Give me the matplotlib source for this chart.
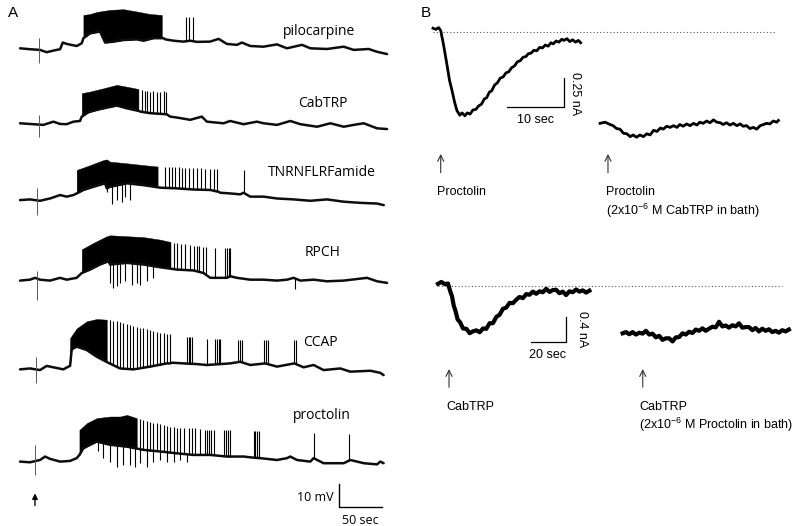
import numpy as np
import matplotlib
matplotlib.use("Agg")
import matplotlib.pyplot as plt

plt.rcParams["mathtext.fontset"] = "custom"
plt.rcParams["mathtext.rm"] = "Liberation Sans"
plt.rcParams["mathtext.it"] = "Liberation Sans:italic"

# ---------------------------------------------------------------
# Panel A: intracellular recordings (time in s, mV relative to trace start)
# base = slow membrane potential, HI = top of the dense burst,
# SPK = single spikes (peak), DIP = downward deflections (trough)
# ---------------------------------------------------------------
PILO_T = [0, 11.6, 23.3, 31, 38.8, 46.6, 49.7, 54.3, 66, 71.8, 73.7, 81.5, 93.1, 99, 108.6, 120.3,
          135.8, 143.6, 155.2, 166.8, 168.8, 178.5, 190, 198, 205.6, 221, 230.9, 240.6, 252.2, 258,
          267.7, 283, 298.8, 310.4, 327.9, 337.6, 357, 376.4, 388, 405.5, 415, 426.8]
PILO_V = [0, -0.4, -0.7, -1.7, -1.0, -0.4, 2.5, 1.9, 1.0, 2.2, 4.4, 6.5, 7.3, 2.5, 2.9, 3.6,
          3.9, 3.3, 4.4, 4.4, 3.9, 3.3, 2.9, 3.3, 2.8, 2.9, 4.1, 1.9, 1.5, 2.5,
          1.0, 0.7, 1.7, 0, 1.5, 0, -0.3, 0.7, -0.7, -0.3, -1.5, -2.5]
PILO_HI_T = [73.7, 81.5, 89.2, 104.8, 120.3, 135.8, 151.3, 164.9]
PILO_HI_V = [14.5, 14.9, 15.8, 16.7, 17.0, 16.0, 14.9, 14.5]
PILO_SPK_T = [193.2, 196.7, 200.6]
PILO_SPK_V = [13.5, 13.5, 13.5]

CAB_T = [0, 15.5, 27.2, 38.8, 46.6, 54.3, 62.1, 69.8, 71.8, 79.5, 89.2, 100.9, 112.5, 124.2, 137.7,
         139.7, 151.3, 170.7, 174.6, 182.4, 197.9, 211.4, 217.3, 236.7, 244.4, 260, 275.5, 283.2,
         298.8, 314.3, 326, 345.4, 360.9, 376.4, 388, 399.7, 415.2, 426.8]
CAB_V = [0, -0.4, -0.7, 0.7, -0.3, -0.4, 0.7, 1.0, 2.9, 4.8, 5.8, 6.8, 7.7, 6.5, 5.4,
         5.1, 4.4, 3.9, 2.9, 2.5, 1.5, 2.9, 0.7, 0, 1.0, -0.4, 0.7, 0,
         -0.7, 1.0, -0.4, -1.5, 0, -1.5, -0.7, 0, -2.2, -2.5]
CAB_HI_T = [71.8, 81.5, 97, 112.5, 124.2, 137.7]
CAB_HI_V = [13.1, 13.8, 15.2, 16.7, 15.9, 14.9]
CAB_SPK_T = [141.6, 145.1, 148.2, 151.3, 155.2, 159.1, 163, 167.7, 170]
CAB_SPK_V = [14.5, 14.2, 14.2, 13.8, 14.2, 13.8, 13.8, 14.2, 13.8]

TNRN_T = [0, 11.6, 23.3, 34.9, 46.6, 54.3, 62.1, 65.9, 73.7, 85.4, 98.9, 100.9, 104.8, 124.2, 143.6,
          163, 182.4, 201.8, 221.2, 230.9, 232.8, 244.4, 256.1, 259.9, 267.7, 283.2, 298.8, 318.2,
          337.6, 357, 376.4, 395.8, 415.2, 423]
TNRN_V = [0, 0.3, -0.3, 0.7, 2.2, 1.5, 2.2, 2.9, 4.4, 5.8, 7.3, 5.1, 5.8, 7.3, 6.5,
          5.4, 5.1, 4.6, 4.4, 3.6, 3.2, 2.9, 2.5, 3.2, 1.5, 1.5, 0.7, 0.3,
          -0.3, 0.3, -0.7, -1.2, -1.5, -2.2]
TNRN_HI_T = [65.9, 81.5, 97, 100.9, 104.8, 124.2, 143.6, 160]
TNRN_HI_V = [13.1, 15.2, 17.4, 17.7, 16.7, 16.0, 15.2, 14.6]
TNRN_SPK_T = [168.8, 172.7, 176.6, 180.5, 184.3, 188.2, 192.1, 196, 201, 205.6, 210.3, 215.3,
              221.2, 225.8, 228.9, 259.9]
TNRN_SPK_V = [14.5, 14.4, 14.4, 14.2, 14.2, 14.0, 14.0, 13.8, 13.8, 13.8, 13.8, 13.6,
              13.6, 13.6, 13.6, 13.0]
TNRN_DIP_T = [100.9, 106.7, 112.5, 118.3, 122.2, 128]
TNRN_DIP_V = [3.5, -1.5, 0, -0.7, 1.5, 0]

RPCH_T = [0, 11.6, 17.5, 23.3, 34.9, 46.6, 54.3, 65.9, 71.8, 81.5, 93.1, 102.8, 104.8, 124.2, 143.6,
          163, 182.4, 201.8, 213.4, 221.2, 240.6, 244.4, 252.2, 267.7, 283.2, 298.8, 310.4, 318.2,
          325.9, 341.4, 357, 376.4, 403.5, 415.2, 426.8]
RPCH_V = [0, 0.4, 1.2, 0.4, 0, 1.2, 0.4, 1.2, 3.3, 4.8, 7.0, 8.4, 7.0, 7.7, 7.0,
          5.8, 4.8, 4.4, 3.3, 1.2, 1.2, 1.9, 1.2, 0.4, 0.4, 0, 0.4, 1.2,
          0, 0.4, -0.3, 0, 1.2, -0.3, -1.0]
RPCH_HI_T = [71.8, 85.4, 100.9, 104.8, 124.2, 143.6, 163, 175]
RPCH_HI_V = [13.6, 16.4, 19.3, 19.7, 19.3, 18.9, 17.8, 16.8]
RPCH_SPK_T = [178.5, 182.4, 187, 192.1, 197.9, 202.9, 205.6, 208.7, 212.6, 216.5, 227,
              238.6, 240.6, 242.5, 244.4]
RPCH_SPK_V = [16.5, 16.2, 16.0, 15.8, 15.4, 15.2, 15.0, 15.0, 14.8, 14.6, 14.2,
              14.0, 14.0, 14.0, 14.0]
RPCH_DIP_T = [104.8, 108.6, 112.5, 116.4, 122.2, 130, 135.8, 139.7, 147.4, 155.2, 320]
RPCH_DIP_V = [-1.0, -3.2, -2.5, -1.0, -0.3, -1.7, -1.0, -1.7, -0.3, 1.2, -3.5]

CCAP_T = [0, 11.6, 23.3, 31, 38.8, 50.4, 56.3, 58.2, 60.1, 65.9, 77.6, 89.2, 100.9, 116.4, 131.9,
          151.3, 170.7, 174.6, 176.6, 190.2, 205.6, 217.3, 244.4, 256.1, 267.7, 285.2, 298.8, 319,
          329.7, 341.4, 353, 372.5, 384.1, 407.4, 418.9, 422.8]
CCAP_V = [0, 0.4, -0.3, 1.5, 0.9, 0, 1.2, 1.5, 8.7, 9.9, 8.4, 5.5, 3.2, 0.4, 0,
          1.2, 2.6, 2.6, 2.9, 2.6, 2.3, 1.9, 2.6, 3.3, 1.9, 2.6, 1.2, 2.6,
          0.9, 1.9, -0.3, 0.4, -1.0, -0.6, -1.5, -2.5]
CCAP_HI_T = [58.2, 65.9, 77.6, 89.2, 100.9]
CCAP_HI_V = [13.6, 17.8, 20.9, 21.9, 21.6]
CCAP_SPK_T = [104.8, 108.6, 112.5, 116.4, 120.3, 124.2, 128, 131.9, 135.8, 139.7, 143.6, 147.4,
              151.3, 155.2, 159.1, 163, 166.9, 170.7, 174.6, 194, 196, 198, 200, 217.3,
              227, 229, 231, 233, 254, 256, 258, 284, 286, 288, 319, 320.5]
CCAP_SPK_V = [21.4, 21.2, 21.0, 20.6, 20.2, 19.8, 19.4, 19.0, 18.6, 18.2, 17.8, 17.4,
              17.0, 16.6, 16.2, 15.8, 15.6, 15.4, 15.4, 14.2, 14.2, 14.2, 14.2, 13.1,
              13.1, 13.1, 13.1, 13.1, 12.8, 12.8, 12.8, 12.8, 12.8, 12.8, 12.8, 12.8]

PROC_T = [0, 11.6, 23.3, 29.1, 34.9, 46.6, 58.2, 65.9, 69.1, 73.7, 81.5, 89.2, 104.8, 124.2, 143.6,
          163, 182.4, 201.8, 221.2, 240.6, 260, 271.6, 279.4, 298.8, 310.4, 314.3, 322.1, 337.6,
          341.4, 353, 376.4, 384.1, 399.7, 415.2, 418.9, 422.8]
PROC_V = [0, -0.3, 0.7, 2.2, 1.2, 0, 0.3, 1.5, 2.9, 5.8, 7.3, 8.7, 7.3, 6.5, 5.1,
          4.4, 3.6, 2.9, 2.9, 2.2, 2.2, 1.7, 1.5, 0.7, 1.5, 2.2, 0.7, 0,
          1.5, -0.7, -0.7, 0.7, -0.7, -1.2, 0, -0.7]
PROC_HI_T = [69.1, 77.6, 89.2, 104.8, 116.4, 124.2, 135.8]
PROC_HI_V = [13.8, 16.7, 18.9, 19.6, 19.6, 20.3, 18.9]
PROC_SPK_T = [139.7, 143.6, 147.4, 151.3, 155.2, 159.1, 163, 166.9, 170.7, 174.6, 178.5, 182.4,
              186.3, 190.2, 196, 199.8, 203.7, 209.5, 215.3, 217.5, 220, 222.5, 225, 236.7,
              239, 241.5, 244.4, 271.6, 273.5, 275.5, 277.4, 341.4, 382.1]
PROC_SPK_V = [18.6, 18.2, 17.8, 17.4, 17.0, 16.6, 16.2, 15.8, 15.5, 15.2, 15.0, 14.8,
              14.6, 14.5, 14.5, 14.5, 14.5, 14.0, 13.8, 13.8, 13.8, 13.8, 13.8, 13.8,
              13.8, 13.8, 13.8, 13.1, 13.1, 13.1, 13.1, 12.3, 11.9]
PROC_DIP_T = [91.2, 97, 104.8, 112.5, 120.3, 128, 133.8, 139.7, 147.4, 155.2, 163, 170.7,
              178.5, 186.3, 194]
PROC_DIP_V = [4.4, 1.5, 0, -2.2, -1.5, -1.5, -2.2, -0.7, -2.2, 0, 0.7, 0, 0, 0.7, 0]

A_LABELS = ["pilocarpine", "CabTRP", "TNRNFLRFamide", "RPCH", "CCAP", "proctolin"]
# stimulus artefact at application time (s) and its extent (mV)
ART_T = [22.5, 22.5, 19.4, 19.4, 18.6, 17.5]
ART_TOP = [4.4, 3.6, 5.1, 4.0, 5.5, 7.3]
ART_BOT = [-6.5, -5.8, -6.5, -8.3, -6.1, -5.8]

# ---------------------------------------------------------------
# Panel B: voltage-clamp currents (time in s, current in nA)
# ---------------------------------------------------------------
BT_PROC_T = [0, 0.5, 1.0, 1.35, 1.8, 2.4, 2.9, 3.3, 3.8, 4.2, 4.7, 5.1, 5.6, 6.0, 6.5, 7.0, 7.5,
             8.0, 8.5, 9.0, 9.4, 9.9, 10.3, 10.8, 11.3, 11.8, 12.3, 12.8, 13.3, 13.8, 14.3, 14.8,
             15.3, 15.8, 16.3, 16.7, 17.2, 17.7, 18.2, 18.7, 19.2, 19.7, 20.2, 20.7, 21.1, 21.6,
             22.1, 22.6, 23.0, 23.5, 24.0, 24.5, 25.0, 25.5, 25.9]
BT_PROC_I = [0.03, 0.02, 0.035, 0.01, -0.10, -0.27, -0.42, -0.50, -0.61, -0.68, -0.72, -0.70,
             -0.725, -0.70, -0.71, -0.675, -0.67, -0.64, -0.625, -0.58, -0.57, -0.52, -0.51,
             -0.46, -0.44, -0.40, -0.39, -0.355, -0.345, -0.31, -0.295, -0.26, -0.25, -0.22,
             -0.215, -0.19, -0.185, -0.16, -0.165, -0.135, -0.14, -0.115, -0.125, -0.095,
             -0.105, -0.08, -0.09, -0.065, -0.075, -0.06, -0.085, -0.07, -0.09, -0.075, -0.095]
BT_PROC2_T = [0, 0.9, 1.76, 2.3, 2.9, 3.5, 4.1, 4.7, 5.3, 5.8, 6.4, 7.0, 7.6, 8.2, 8.8, 9.4, 10.0,
              10.6, 11.1, 11.7, 12.3, 12.9, 13.5, 14.0, 14.6, 15.2, 15.8, 16.4, 17.0, 17.5, 18.1,
              18.7, 19.3, 19.9, 20.5, 21.1, 21.6, 22.2, 22.8, 23.4, 24.0, 24.6, 25.1, 25.7, 26.3,
              26.9, 27.5, 28.1, 28.7, 29.2, 29.8, 30.4, 31.0, 31.3]
BT_PROC2_I = [0, 0.01, -0.01, -0.02, -0.045, -0.05, -0.085, -0.09, -0.115, -0.10, -0.12, -0.10,
              -0.115, -0.09, -0.1, -0.06, -0.07, -0.04, -0.05, -0.025, -0.035, -0.02, -0.035,
              -0.01, -0.025, -0.005, -0.02, 0.0, -0.015, 0.01, 0.0, 0.02, 0.005, 0.03, 0.01,
              0.005, -0.01, 0.005, -0.015, 0.0, -0.02, -0.005, -0.025, -0.02, -0.045, -0.035,
              -0.05, -0.02, -0.01, 0.0, -0.005, 0.02, 0.01, 0.025]

BB_CAB_T = [0, 1.9, 3.8, 5.7, 7.0, 8.0, 9.0, 10.0, 11.2, 12.6, 14.3, 16.2, 18.1, 20.0, 21.9, 23.8,
            25.7, 27.6, 29.5, 31.4, 33.3, 35.2, 37.1, 39.0, 40.9, 42.8, 44.7, 46.6, 48.5, 50.4,
            52.3, 54.2, 56.1, 58.0, 59.9, 61.8, 63.7, 65.6, 67.5, 69.4, 71.3, 73.2, 75.1, 77.0,
            78.9, 80.8, 82.7, 84.6, 86.5]
BB_CAB_I = [0.03, 0.06, 0.025, 0.035, -0.09, -0.17, -0.32, -0.405, -0.54, -0.585,
            -0.685, -0.69, -0.76, -0.73, -0.715, -0.745, -0.685, -0.69, -0.60, -0.60,
            -0.50, -0.465, -0.37, -0.35, -0.275, -0.28, -0.225, -0.18, -0.20, -0.135,
            -0.145, -0.095, -0.13, -0.09, -0.105, -0.05, -0.10, -0.07, -0.065, -0.12,
            -0.095, -0.15, -0.09, -0.105, -0.06, -0.095, -0.075, -0.11, -0.08]
BB_CAB2_T = [0, 1.9, 3.8, 5.7, 7.6, 9.5, 11.4, 13.3, 15.2, 17.1, 19.0, 20.9, 22.8, 24.7, 26.6,
             28.5, 30.4, 32.3, 34.2, 36.1, 38.0, 39.9, 41.8, 43.7, 45.6, 47.5, 49.4, 51.3, 53.2,
             55.1, 57.0, 58.9, 60.8, 62.7, 64.6, 66.5, 68.4, 70.3, 72.2, 74.1, 76.0, 77.9, 79.8,
             81.7, 83.6, 85.5, 87.4, 89.3, 91.2, 93.1, 95.0]
BB_CAB2_I = [0.0, 0.02, -0.015, 0.02, -0.02, 0.01, -0.005, 0.04, -0.02, -0.005,
             -0.065, -0.04, -0.105, -0.08, -0.08, -0.13, -0.065, -0.06, 0.0, -0.02,
             0.025, 0.005, 0.06, 0.04, 0.08, 0.04, 0.075, 0.105, 0.095, 0.185,
             0.11, 0.125, 0.09, 0.13, 0.11, 0.16, 0.09, 0.10, 0.10, 0.05,
             0.085, 0.03, 0.075, 0.04, 0.065, 0.02, 0.04, 0.01, 0.05, 0.03, 0.06]

# scale bars
A_BAR_MV, A_BAR_S = 10, 50
BT_BAR_NA, BT_BAR_S = 0.25, 10
BB_BAR_NA, BB_BAR_S = 0.4, 20

# ---------------------------------------------------------------
W, H = 795, 526
fig = plt.figure(figsize=(W / 100, H / 100), dpi=100)
fig.patch.set_facecolor("white")

FONT_A = ["Open Sans", "DejaVu Sans"]
FONT_B = ["Liberation Sans", "DejaVu Sans"]


def draw_trace_a(ax, off, bt, bv, hi_t, hi_v, spk_t, spk_v, dip_t, dip_v, art):
    bt = np.asarray(bt, float)
    bv = np.asarray(bv, float) + off
    grid = np.linspace(hi_t[0], hi_t[-1], 300)
    ax.fill_between(grid, np.interp(grid, bt, bv), np.interp(grid, hi_t, hi_v) + off,
                    color="black", lw=0.3)
    ax.plot(bt, bv, color="0.05", lw=1.8, solid_joinstyle="round", solid_capstyle="round")
    if spk_t:
        ax.vlines(spk_t, np.interp(spk_t, bt, bv), np.asarray(spk_v) + off, color="black", lw=0.8)
    if dip_t:
        ax.vlines(dip_t, np.asarray(dip_v) + off, np.interp(dip_t, bt, bv), color="black", lw=0.8)
    t, top, bot = art
    ax.vlines(t, bot + off, top + off, color="0.35", lw=0.7)


# ---- panel A: axis spans 0..400 px, 0.86 px/s, 2.3 px/mV
axA = fig.add_axes([0, 0, 400 / W, 1])
axA.set_xlim(-23.26, 441.86)
axA.set_ylim(-228.7, 0)
axA.axis("off")

a_traces = [
    (PILO_T, PILO_V, PILO_HI_T, PILO_HI_V, PILO_SPK_T, PILO_SPK_V, [], []),
    (CAB_T, CAB_V, CAB_HI_T, CAB_HI_V, CAB_SPK_T, CAB_SPK_V, [], []),
    (TNRN_T, TNRN_V, TNRN_HI_T, TNRN_HI_V, TNRN_SPK_T, TNRN_SPK_V, TNRN_DIP_T, TNRN_DIP_V),
    (RPCH_T, RPCH_V, RPCH_HI_T, RPCH_HI_V, RPCH_SPK_T, RPCH_SPK_V, RPCH_DIP_T, RPCH_DIP_V),
    (CCAP_T, CCAP_V, CCAP_HI_T, CCAP_HI_V, CCAP_SPK_T, CCAP_SPK_V, [], []),
    (PROC_T, PROC_V, PROC_HI_T, PROC_HI_V, PROC_SPK_T, PROC_SPK_V, PROC_DIP_T, PROC_DIP_V),
]
a_offsets = [-21.0, -53.6, -87.0, -122.0, -160.6, -200.7]
a_label_xy = [(305.8, -13.8), (323.3, -44.8), (288.0, -75.1), (331.4, -110.0),
              (329.4, -148.8), (317.1, -180.8)]

for i, tr in enumerate(a_traces):
    draw_trace_a(axA, a_offsets[i], *tr, (ART_T[i], ART_TOP[i], ART_BOT[i]))
    axA.text(*a_label_xy[i], A_LABELS[i], family=FONT_A, fontsize=10, ha="left", va="center")

# scale bar and application arrow
bx, by = 370.9, -220.4
axA.plot([bx, bx, bx + A_BAR_S], [by + A_BAR_MV, by, by], color="black", lw=1.0)
axA.text(bx - 6, by + 4.3, "10 mV", family=FONT_A, fontsize=9, ha="right", va="center")
axA.text(bx + A_BAR_S / 2, by - 5.8, "50 sec", family=FONT_A, fontsize=9, ha="center", va="center")
axA.annotate("", xy=(17.4, -213.3), xytext=(17.4, -221.0),
             arrowprops=dict(arrowstyle="-|>", lw=1.0, color="black", mutation_scale=8))

fig.text(8 / W, 1 - 13 / H, "A", family=FONT_B, fontsize=11, va="center")
fig.text(421 / W, 1 - 13 / H, "B", family=FONT_B, fontsize=11, va="center")

# ---- panel B top: 5.7 px/s, 116 px/nA
axBt = fig.add_axes([420 / W, 1 - 240 / H, 375 / W, 240 / H])
axBt.set_xlim(-2.281, 63.51)
axBt.set_ylim(-1.7957, 0.2733)
axBt.axis("off")
axBt.plot([0, 60.0], [0, 0], color="0.35", lw=0.8, ls=(0, (1, 2)))
axBt.plot(BT_PROC_T, BT_PROC_I, color="black", lw=2.0)
axBt.plot(np.asarray(BT_PROC2_T) + 29.3, np.asarray(BT_PROC2_I) - 0.79, color="black", lw=2.0)
sx, sy = 22.98, -0.649
axBt.plot([sx - BT_BAR_S, sx, sx], [sy, sy, sy + BT_BAR_NA], color="black", lw=0.9)
axBt.text(sx - BT_BAR_S / 2, -0.765, "10 sec", family=FONT_B, fontsize=9, ha="center", va="center")
axBt.text(24.9, -0.53, "0.25 nA", family=FONT_B, fontsize=9, rotation=-90,
          ha="center", va="center")
for ax_x in (1.35, 30.7):
    axBt.annotate("", xy=(ax_x, -1.03), xytext=(ax_x, -1.24),
                  arrowprops=dict(arrowstyle="->", lw=0.8, color="0.2", mutation_scale=11))
axBt.text(0.7, -1.384, "Proctolin", family=FONT_B, fontsize=9, ha="left", va="center")
axBt.text(30.35, -1.384, "Proctolin", family=FONT_B, fontsize=9, ha="left", va="center")
axBt.text(30.35, -1.545, r"(2x10$^{-6}$ M CabTRP in bath)", family=FONT_B, fontsize=9,
          ha="left", va="center")

# ---- panel B bottom: 1.75 px/s, 62.5 px/nA
axBb = fig.add_axes([420 / W, 1 - 470 / H, 375 / W, 220 / H])
axBb.set_xlim(-10.29, 204.0)
axBb.set_ylim(-2.949, 0.571)
axBb.axis("off")
axBb.plot([0, 196.6], [0, 0], color="0.35", lw=0.8, ls=(0, (1, 2)))
axBb.plot(BB_CAB_T, BB_CAB_I, color="black", lw=3.0)
axBb.plot(np.asarray(BB_CAB2_T) + 105.5, np.asarray(BB_CAB2_I) - 0.762, color="black", lw=3.0)
sx, sy = 73.14, -0.896
axBb.plot([sx - BB_BAR_S, sx, sx], [sy, sy, sy + BB_BAR_NA], color="black", lw=0.9)
axBb.text(sx - BB_BAR_S / 2 - 0.5, -1.11, "20 sec", family=FONT_B, fontsize=9, ha="center",
          va="center")
axBb.text(82.1, -0.70, "0.4 nA", family=FONT_B, fontsize=9, rotation=-90, ha="center",
          va="center")
for ax_x in (6.29, 117.0):
    axBb.annotate("", xy=(ax_x, -1.29), xytext=(ax_x, -1.67),
                  arrowprops=dict(arrowstyle="->", lw=0.8, color="0.2", mutation_scale=11))
axBb.text(4.97, -1.936, "CabTRP", family=FONT_B, fontsize=9, ha="left", va="center")
axBb.text(114.9, -1.936, "CabTRP", family=FONT_B, fontsize=9, ha="left", va="center")
axBb.text(114.9, -2.23, r"(2x10$^{-6}$ M Proctolin in bath)", family=FONT_B, fontsize=9,
          ha="left", va="center")

fig.savefig("out.png", dpi=100)
